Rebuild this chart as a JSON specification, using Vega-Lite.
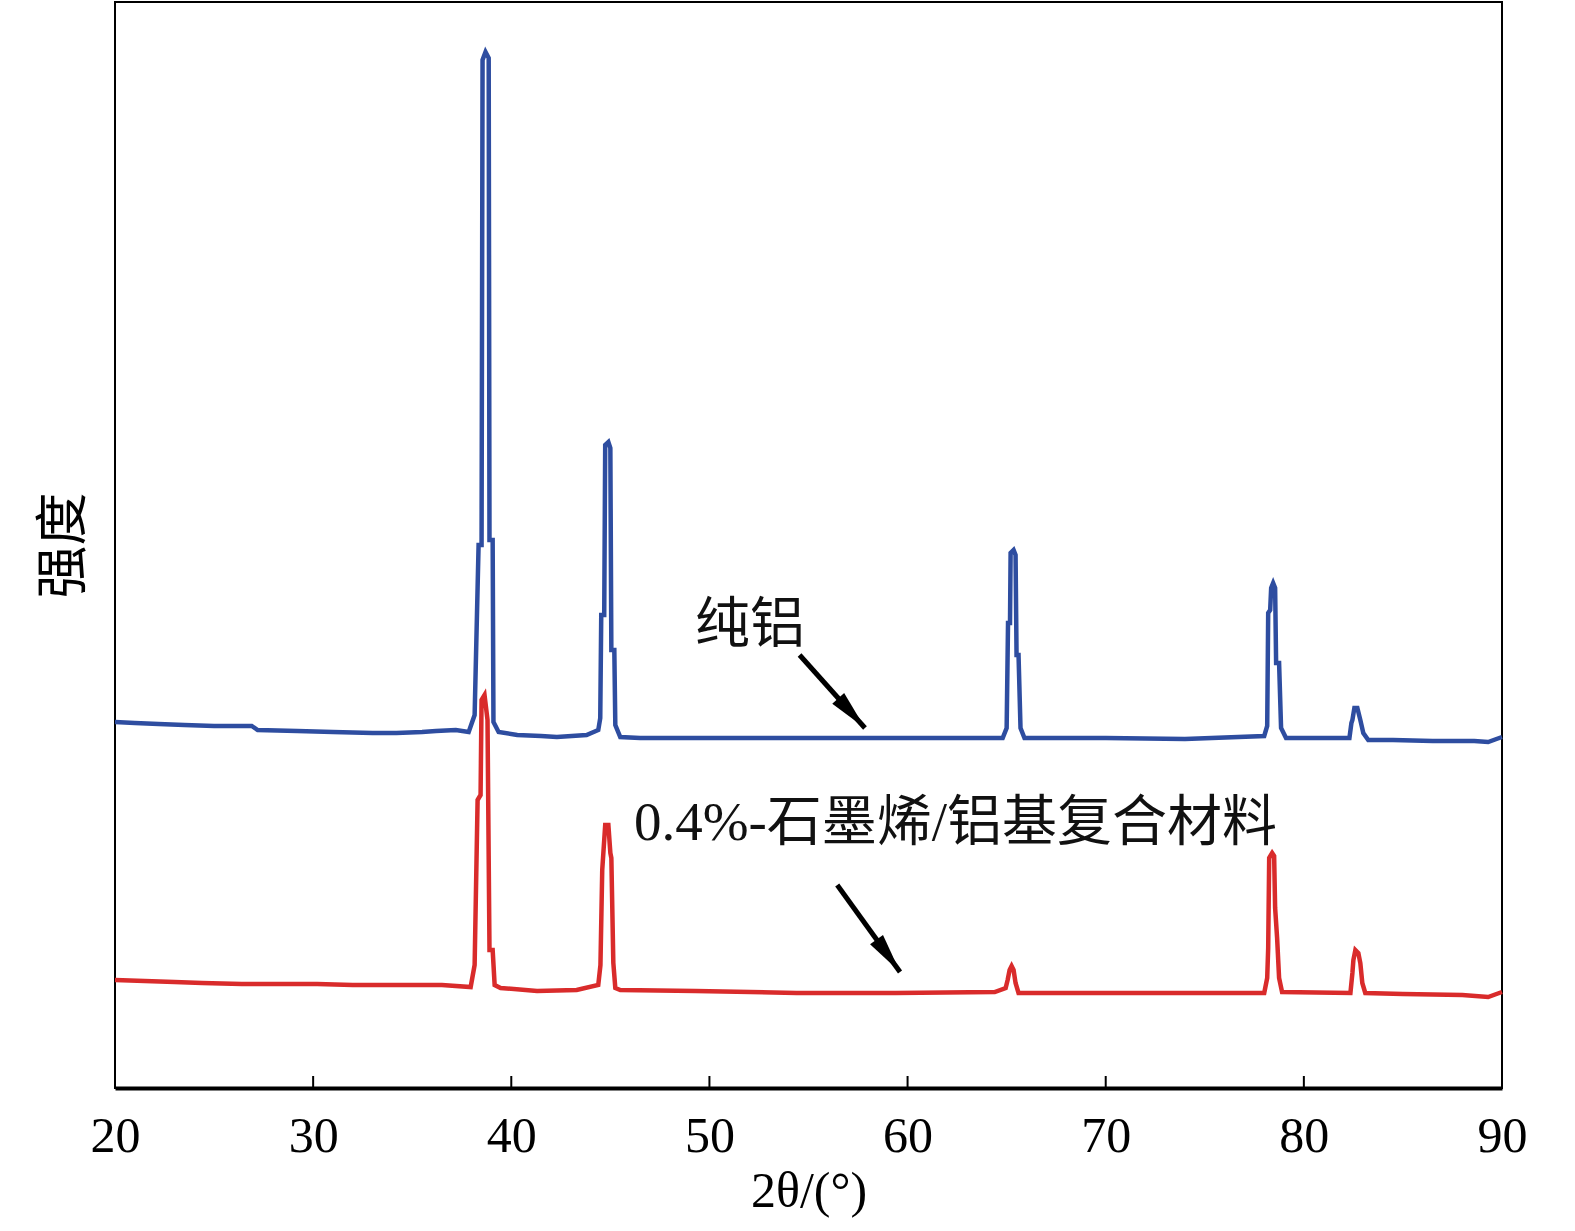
{
  "$schema": "https://vega.github.io/schema/vega-lite/v6.json",
  "description": "XRD patterns of pure Al and 0.4% graphene/Al composite.",
  "width": 1387,
  "height": 1086,
  "autosize": "none",
  "padding": {"left": 115, "top": 2, "right": 73, "bottom": 143},
  "background": "white",
  "config": {"view": {"stroke": "black", "strokeWidth": 2}},
  "datasets": {
    "xrd": [
      {"s": "pure", "t": 20, "i": 366}, {"s": "pure", "t": 21, "i": 365}, {"s": "pure", "t": 22.2, "i": 364}, {"s": "pure", "t": 23.5, "i": 363},
      {"s": "pure", "t": 25, "i": 362}, {"s": "pure", "t": 26.9, "i": 362}, {"s": "pure", "t": 27.2, "i": 358}, {"s": "pure", "t": 29.2, "i": 357},
      {"s": "pure", "t": 31, "i": 356}, {"s": "pure", "t": 33, "i": 355}, {"s": "pure", "t": 34.2, "i": 355}, {"s": "pure", "t": 35.5, "i": 356},
      {"s": "pure", "t": 36.2, "i": 357}, {"s": "pure", "t": 37.2, "i": 358}, {"s": "pure", "t": 37.85, "i": 356}, {"s": "pure", "t": 38.15, "i": 373},
      {"s": "pure", "t": 38.35, "i": 543}, {"s": "pure", "t": 38.5, "i": 543}, {"s": "pure", "t": 38.55, "i": 1028}, {"s": "pure", "t": 38.7, "i": 1036},
      {"s": "pure", "t": 38.86, "i": 1030}, {"s": "pure", "t": 38.9, "i": 548}, {"s": "pure", "t": 39.06, "i": 548}, {"s": "pure", "t": 39.1, "i": 366},
      {"s": "pure", "t": 39.36, "i": 356}, {"s": "pure", "t": 40.3, "i": 353}, {"s": "pure", "t": 41.5, "i": 352}, {"s": "pure", "t": 42.3, "i": 351},
      {"s": "pure", "t": 43.8, "i": 353}, {"s": "pure", "t": 44.39, "i": 358}, {"s": "pure", "t": 44.49, "i": 370}, {"s": "pure", "t": 44.54, "i": 473},
      {"s": "pure", "t": 44.69, "i": 473}, {"s": "pure", "t": 44.74, "i": 643}, {"s": "pure", "t": 44.9, "i": 646}, {"s": "pure", "t": 45.0, "i": 640},
      {"s": "pure", "t": 45.05, "i": 438}, {"s": "pure", "t": 45.2, "i": 438}, {"s": "pure", "t": 45.25, "i": 363}, {"s": "pure", "t": 45.5, "i": 351},
      {"s": "pure", "t": 46.5, "i": 350}, {"s": "pure", "t": 50.3, "i": 350}, {"s": "pure", "t": 54.4, "i": 350}, {"s": "pure", "t": 59.4, "i": 350},
      {"s": "pure", "t": 64.8, "i": 350}, {"s": "pure", "t": 65.0, "i": 360}, {"s": "pure", "t": 65.07, "i": 465}, {"s": "pure", "t": 65.17, "i": 465},
      {"s": "pure", "t": 65.2, "i": 535}, {"s": "pure", "t": 65.35, "i": 538}, {"s": "pure", "t": 65.45, "i": 533}, {"s": "pure", "t": 65.5, "i": 433},
      {"s": "pure", "t": 65.6, "i": 433}, {"s": "pure", "t": 65.7, "i": 360}, {"s": "pure", "t": 65.9, "i": 350}, {"s": "pure", "t": 70, "i": 350},
      {"s": "pure", "t": 74, "i": 349}, {"s": "pure", "t": 78.0, "i": 352}, {"s": "pure", "t": 78.15, "i": 362}, {"s": "pure", "t": 78.2, "i": 475},
      {"s": "pure", "t": 78.3, "i": 478}, {"s": "pure", "t": 78.35, "i": 500}, {"s": "pure", "t": 78.45, "i": 505}, {"s": "pure", "t": 78.55, "i": 500},
      {"s": "pure", "t": 78.6, "i": 425}, {"s": "pure", "t": 78.75, "i": 425}, {"s": "pure", "t": 78.85, "i": 360}, {"s": "pure", "t": 79.1, "i": 350},
      {"s": "pure", "t": 80, "i": 350}, {"s": "pure", "t": 82.3, "i": 350}, {"s": "pure", "t": 82.4, "i": 365}, {"s": "pure", "t": 82.45, "i": 368},
      {"s": "pure", "t": 82.55, "i": 380}, {"s": "pure", "t": 82.7, "i": 380}, {"s": "pure", "t": 82.85, "i": 368}, {"s": "pure", "t": 83.0, "i": 355},
      {"s": "pure", "t": 83.25, "i": 348}, {"s": "pure", "t": 84.5, "i": 348}, {"s": "pure", "t": 86.5, "i": 347}, {"s": "pure", "t": 88.6, "i": 347},
      {"s": "pure", "t": 89.3, "i": 346}, {"s": "pure", "t": 90, "i": 351},

      {"s": "comp", "t": 20, "i": 108}, {"s": "comp", "t": 21.5, "i": 107}, {"s": "comp", "t": 23, "i": 106}, {"s": "comp", "t": 24.4, "i": 105},
      {"s": "comp", "t": 26.4, "i": 104}, {"s": "comp", "t": 28.3, "i": 104}, {"s": "comp", "t": 30.2, "i": 104}, {"s": "comp", "t": 32, "i": 103},
      {"s": "comp", "t": 34.4, "i": 103}, {"s": "comp", "t": 36.5, "i": 103}, {"s": "comp", "t": 37.95, "i": 101}, {"s": "comp", "t": 38.15, "i": 123},
      {"s": "comp", "t": 38.3, "i": 288}, {"s": "comp", "t": 38.45, "i": 293}, {"s": "comp", "t": 38.5, "i": 388}, {"s": "comp", "t": 38.65, "i": 393},
      {"s": "comp", "t": 38.8, "i": 368}, {"s": "comp", "t": 38.9, "i": 138}, {"s": "comp", "t": 39.06, "i": 138}, {"s": "comp", "t": 39.16, "i": 103},
      {"s": "comp", "t": 39.46, "i": 100}, {"s": "comp", "t": 41.3, "i": 97}, {"s": "comp", "t": 43.3, "i": 98}, {"s": "comp", "t": 44.39, "i": 103},
      {"s": "comp", "t": 44.5, "i": 123}, {"s": "comp", "t": 44.59, "i": 218}, {"s": "comp", "t": 44.74, "i": 263}, {"s": "comp", "t": 44.9, "i": 263},
      {"s": "comp", "t": 45.0, "i": 235}, {"s": "comp", "t": 45.05, "i": 230}, {"s": "comp", "t": 45.15, "i": 125}, {"s": "comp", "t": 45.25, "i": 100},
      {"s": "comp", "t": 45.5, "i": 98}, {"s": "comp", "t": 49.3, "i": 97}, {"s": "comp", "t": 54.4, "i": 95}, {"s": "comp", "t": 59.4, "i": 95},
      {"s": "comp", "t": 64.4, "i": 96}, {"s": "comp", "t": 64.95, "i": 100}, {"s": "comp", "t": 65.05, "i": 108}, {"s": "comp", "t": 65.15, "i": 118},
      {"s": "comp", "t": 65.25, "i": 122}, {"s": "comp", "t": 65.35, "i": 118}, {"s": "comp", "t": 65.45, "i": 105}, {"s": "comp", "t": 65.6, "i": 95},
      {"s": "comp", "t": 70, "i": 95}, {"s": "comp", "t": 74, "i": 95}, {"s": "comp", "t": 78.0, "i": 95}, {"s": "comp", "t": 78.15, "i": 110},
      {"s": "comp", "t": 78.2, "i": 140}, {"s": "comp", "t": 78.25, "i": 230}, {"s": "comp", "t": 78.4, "i": 235}, {"s": "comp", "t": 78.5, "i": 232},
      {"s": "comp", "t": 78.55, "i": 180}, {"s": "comp", "t": 78.65, "i": 150}, {"s": "comp", "t": 78.75, "i": 110}, {"s": "comp", "t": 78.9, "i": 96},
      {"s": "comp", "t": 82.35, "i": 95}, {"s": "comp", "t": 82.45, "i": 115}, {"s": "comp", "t": 82.5, "i": 128}, {"s": "comp", "t": 82.6, "i": 138},
      {"s": "comp", "t": 82.75, "i": 135}, {"s": "comp", "t": 82.85, "i": 125}, {"s": "comp", "t": 82.95, "i": 105}, {"s": "comp", "t": 83.1, "i": 95},
      {"s": "comp", "t": 85, "i": 94}, {"s": "comp", "t": 88, "i": 93}, {"s": "comp", "t": 89.3, "i": 91}, {"s": "comp", "t": 90, "i": 96}
    ],
    "ticks": [
      {"t": 30, "i": 0, "i2": 12}, {"t": 40, "i": 0, "i2": 12}, {"t": 50, "i": 0, "i2": 12},
      {"t": 60, "i": 0, "i2": 12}, {"t": 70, "i": 0, "i2": 12}, {"t": 80, "i": 0, "i2": 12}
    ],
    "notes": [
      {"t": 49.27, "i": 463, "label": "纯铝"},
      {"t": 46.19, "i": 265, "label": "0.4%-石墨烯/铝基复合材料"}
    ],
    "arrows": [
      {"id": 1, "t": 54.55, "i": 433, "t2": 57.85, "i2": 360},
      {"id": 2, "t": 56.45, "i": 203, "t2": 59.62, "i2": 116}
    ]
  },
  "encoding": {
    "x": {
      "field": "t", "type": "quantitative",
      "scale": {"domain": [20, 90], "nice": false, "zero": false},
      "axis": {
        "title": "2θ/(°)",
        "values": [20, 30, 40, 50, 60, 70, 80, 90],
        "grid": false, "ticks": false,
        "domainColor": "black", "domainWidth": 4,
        "labelFont": "'Liberation Serif', serif", "labelFontSize": 50, "labelColor": "black",
        "labelPadding": 23, "labelFlush": false,
        "titleFont": "'Liberation Serif', serif", "titleFontSize": 50, "titleFontWeight": "normal",
        "titleColor": "black", "titlePadding": 5
      }
    },
    "y": {
      "field": "i", "type": "quantitative",
      "scale": {"domain": [0, 1086], "nice": false, "zero": false},
      "axis": {
        "title": "强度", "labels": false, "ticks": false, "domain": false, "grid": false,
        "titleFont": "'Noto Sans CJK SC'", "titleFontSize": 53, "titleFontWeight": "normal",
        "titleColor": "black", "titlePadding": 24
      }
    }
  },
  "layer": [
    {
      "data": {"name": "ticks"},
      "mark": {"type": "rule", "strokeWidth": 2, "color": "black"},
      "encoding": {"y2": {"field": "i2"}}
    },
    {
      "data": {"name": "xrd"},
      "mark": {"type": "line", "strokeWidth": 4.5, "strokeJoin": "miter"},
      "encoding": {
        "color": {
          "field": "s", "type": "nominal", "legend": null,
          "scale": {"domain": ["pure", "comp"], "range": ["#2e4da0", "#d92b2b"]}
        }
      }
    },
    {
      "data": {"name": "notes"},
      "mark": {
        "type": "text", "align": "left", "baseline": "middle",
        "font": "'Liberation Serif', 'Noto Sans CJK SC'", "fontSize": 55, "color": "#111"
      },
      "encoding": {"text": {"field": "label"}}
    },
    {
      "data": {"name": "arrows"},
      "mark": {"type": "rule", "strokeWidth": 5, "color": "black"},
      "encoding": {
        "x2": {"field": "t2"},
        "y2": {"field": "i2"}
      }
    },
    {
      "data": {"name": "arrows"},
      "transform": [{"filter": "datum.id == 1"}],
      "mark": {"type": "point", "shape": "M0,0L-0.4,2L0.4,2Z", "filled": true, "color": "black", "opacity": 1, "size": 1600, "angle": 138},
      "encoding": {
        "x": {"field": "t2", "type": "quantitative"},
        "y": {"field": "i2", "type": "quantitative"}
      }
    },
    {
      "data": {"name": "arrows"},
      "transform": [{"filter": "datum.id == 2"}],
      "mark": {"type": "point", "shape": "M0,0L-0.4,2L0.4,2Z", "filled": true, "color": "black", "opacity": 1, "size": 1600, "angle": 144},
      "encoding": {
        "x": {"field": "t2", "type": "quantitative"},
        "y": {"field": "i2", "type": "quantitative"}
      }
    }
  ]
}
